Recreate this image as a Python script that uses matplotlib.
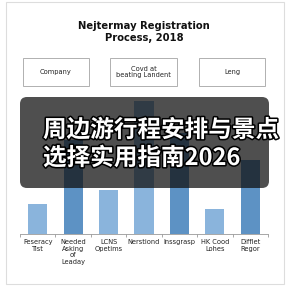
import matplotlib
matplotlib.use("Agg")
import matplotlib.pyplot as plt
from matplotlib.patches import Rectangle, FancyBboxPatch
import matplotlib.patheffects as pe

title = "Nejtermay Registration\nProcess, 2018"
box_labels = ["Company", "Covd at\nbeating Landent", "Leng"]
categories = ["Feseracy\nTist", "Needed\nAsking\nof\nLeaday", "LCNS\nOpetims",
              "Nerstiond", "Inssgrasp", "HK Cood\nLohes", "Difflet\nRegor"]
values = [30, 94, 44, 133, 101, 25, 74]
bar_colors = ["#8ab4dc", "#5d92c4", "#8ab4dc", "#8ab4dc", "#5d92c4", "#8ab4dc", "#5d92c4"]
overlay_lines = ["周边游行程安排与景点", "选择实用指南2026"]

W = H = 288
fig = plt.figure(figsize=(2.88, 2.88), dpi=100)
fig.patch.set_facecolor("white")

def fx(x): return x / W
def fy(y): return 1 - y / H

# bar axes (pixel-based layout)
ax = fig.add_axes([fx(20), fy(234), fx(268) - fx(20), (234 - 94) / H])
ax.bar(range(len(values)), values, width=0.54, color=bar_colors)
ax.set_xlim(-0.5, len(values) - 0.5)
ax.set_ylim(0, 140)
for s in ["top", "right", "left"]:
    ax.spines[s].set_visible(False)
ax.spines["bottom"].set_color("#999999")
ax.spines["bottom"].set_linewidth(0.6)
ax.set_yticks([])
ax.set_xticks([i - 0.5 for i in range(len(values) + 1)], minor=False)
ax.set_xticklabels([])
ax.tick_params(axis="x", length=2.5, width=0.6, color="#999999")
ax.set_facecolor("none")
for i, lab in enumerate(categories):
    ax.text(i, -5, lab, ha="center", va="top", fontsize=4.75, color="#222222",
            linespacing=1.12)

# overlay axes in pixel coords
ov = fig.add_axes([0, 0, 1, 1])
ov.set_xlim(0, W)
ov.set_ylim(H, 0)
ov.axis("off")
ov.set_facecolor("none")

# faint frame
ov.add_patch(Rectangle((5.5, 1.5), 278, 282, fill=False, edgecolor="#dddddd", lw=0.8))

ov.text(144, 32, title, ha="center", va="center", fontsize=7.2, fontweight="bold",
        color="#111111", linespacing=1.25)

boxes = [(23, 89), (110, 177), (199, 265)]
for (x0, x1), lab in zip(boxes, box_labels):
    ov.add_patch(Rectangle((x0, 58), x1 - x0, 28, fill=False, edgecolor="#b0b0b0", lw=0.7))
    ov.text((x0 + x1) / 2, 72, lab, ha="center", va="center", fontsize=4.8,
            color="#222222", linespacing=1.1)

ov.add_patch(FancyBboxPatch((26, 103), 237, 79, boxstyle="round,pad=6,rounding_size=7",
                            facecolor="#111111", edgecolor="none", alpha=0.74))

for txt, y in zip(overlay_lines, [130, 158]):
    t = ov.text(43, y, txt, ha="left", va="center", fontsize=17, fontweight="bold",
                color="white", family=["Noto Sans CJK SC", "DejaVu Sans"])
    t.set_path_effects([pe.withStroke(linewidth=2.2, foreground="black")])

fig.savefig("out.png", dpi=100)
